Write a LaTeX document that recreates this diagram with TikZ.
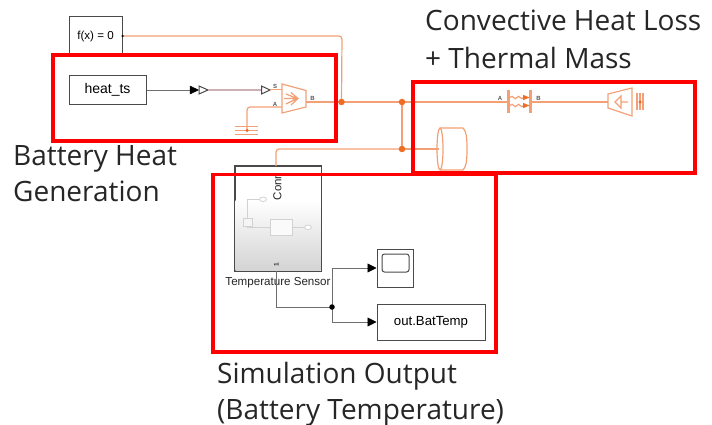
\documentclass[tikz,border=0pt]{standalone}
\usepackage{fontspec}
\setmainfont{Liberation Sans}
\newfontfamily\headfont{Open Sans}
\usetikzlibrary{arrows.meta,shadows,decorations.pathmorphing,shapes.geometric}
\definecolor{phys}{HTML}{F4A077}
\definecolor{physdot}{HTML}{EE6C24}
\definecolor{blockline}{HTML}{4A4A4A}
\definecolor{sigline}{HTML}{6F6F6F}
\definecolor{mixline}{HTML}{CDB0B4}
\definecolor{ghost}{HTML}{D2D2D2}
\definecolor{headtext}{HTML}{262626}
\tikzset{
  blockbox/.style={draw=blockline,line width=1pt,fill=white,inner sep=0pt,
    drop shadow={shadow xshift=1pt,shadow yshift=-1pt,opacity=.3,fill=black}},
  physline/.style={draw=phys,line width=1.2pt,rounded corners=3pt},
  physicon/.style={draw=phys,line width=1.2pt,line join=miter},
  sigarrow/.style={draw=sigline,line width=.9pt,-{Triangle[length=9pt,width=9pt,color=black]}},
  sigline/.style={draw=sigline,line width=.9pt},
  jdot/.style={circle,fill=physdot,inner sep=0pt,minimum size=6.5pt},
  sdot/.style={circle,fill=black,inner sep=0pt,minimum size=5.5pt},
  redbox/.style={draw=red,line width=3.6pt},
  heading/.style={anchor=base west,inner sep=0pt,font=\headfont\fontsize{28}{28}\selectfont,text=headtext},
  portlabel/.style={inner sep=0pt,font=\bfseries\fontsize{6}{7}\selectfont,text=black!65},
  openarrow/.style={draw=blockline,line width=1pt,fill=white,line join=miter},
  ghostline/.style={draw=ghost,line width=.8pt}
}
\begin{document}
\begin{tikzpicture}[x=1pt,y=-1pt]
\useasboundingbox[fill=white] (0,0) rectangle (712,425);

% blocks
\node[blockbox,minimum width=53pt,minimum height=38pt,font=\fontsize{11.6}{13}\selectfont] (solver) at (95.5,36) {f(x) = 0};
\node[blockbox,minimum width=77pt,minimum height=29pt,font=\fontsize{14}{16}\selectfont] (heat) at (107.5,90) {heat\_ts};
\node[blockbox,minimum width=86pt,minimum height=105pt] (sensor) at (278,218.5) {};
\fill[top color=white,bottom color=black!17,draw=none] (235.6,200) rectangle (320.4,270.4);
\draw[draw=blockline,line width=1pt] (sensor.north west) rectangle (sensor.south east);
\node[blockbox,minimum width=36pt,minimum height=38pt] (scope) at (395,268) {};
\draw[draw=blockline,line width=1pt,rounded corners=2.5pt] (382,254) rectangle (409,272);
\node[blockbox,minimum width=108pt,minimum height=36pt,font=\fontsize{13.2}{15}\selectfont] (out) at (431,322) {out.BatTemp};

% inner sensor diagram
\node[ellipse,draw=ghost,fill=white,line width=.8pt,minimum width=7pt,minimum height=4.5pt,inner sep=0pt] (gin) at (263,199.3) {};
\node[ellipse,draw=ghost,fill=white,line width=.8pt,minimum width=7pt,minimum height=4.5pt,inner sep=0pt] (gout) at (308,227.3) {};
\node[draw=ghost,fill=black!4,line width=.8pt,minimum width=9pt,minimum height=8pt,inner sep=0pt] (gsmall) at (247.5,222.5) {};
\node[draw=ghost,fill=black!2,line width=.8pt,minimum width=22pt,minimum height=16pt,inner sep=0pt] (gbig) at (281,227.3) {};
\draw[ghostline] (gin.west) -| (gsmall.north);
\draw[ghostline] (gsmall.south) |- (gbig.west);
\draw[ghostline] (gbig.east) -- (gout.west);
\node[rotate=90,inner sep=0pt,font=\fontsize{11.5}{13}\selectfont,anchor=west,text=black!85] (conn) at (277.5,200.5) {Conn};
\node[rotate=90,inner sep=0pt,font=\bfseries\fontsize{6.5}{7}\selectfont,text=black!80] (pone) at (276.5,265) {1};
\node[inner sep=0pt,font=\fontsize{11.6}{13}\selectfont,text=black!85] (sensorlabel) at (278,283) {Temperature Sensor};

% coordinates
\coordinate (hub) at (341.5,102);
\coordinate (jt) at (402,102);
\coordinate (jb) at (402,149);
\coordinate (solvout) at (122.5,36);
\coordinate (gs) at (306,102);
\coordinate (ga) at (282,107);
\coordinate (gnd) at (247,130.5);
\coordinate (pa) at (508,102);
\coordinate (pb) at (531,102);
\coordinate (capin) at (608,102);
\coordinate (split) at (332,307);
\coordinate (sensout) at (276,271);
\coordinate (sensin) at (276,166);
\coordinate (cyl) at (439,149);

% physical connectors
\draw[physline] (solvout) -- (342,36) -- (hub);
\draw[physline] (gs) -- (hub) -- (jt) -- (pa);
\draw[physline] (pb) -- (capin);
\draw[physline] (jt) -- (jb);
\draw[physline] (jb) -- (276,149) -- (sensin);
\draw[physline] (ga) -- (247,107) -- (gnd);

% controlled source and ground
\draw[physicon,fill=white] (282,84) -- (306,90.5) -- (306,107) -- (282,113) -- cycle;
\draw[physicon] (286,94) -- (297,98.5) -- (286,104) (291,92.5) -- (298,98.5) -- (291,105) (284,98.5) -- (297,98.5);
\draw[physicon] (235,126.5) -- (258,126.5) (235,130.5) -- (258,130.5) (235,134.5) -- (258,134.5);
\node[circle,fill=physdot,inner sep=0pt,minimum size=3.5pt] (gnddot) at (gnd) {};

% signal path
\coordinate (conv) at (190,90);
\draw[sigline] (heat.east) -- (conv);
\draw[fill=black,draw=black] (190,86) -- (198.5,90) -- (190,94) -- cycle;
\draw[openarrow] (199,86) -- (208,90) -- (199,94) -- cycle;
\draw[draw=mixline,line width=1.2pt] (208,90) -- (261,90);
\draw[openarrow] (261.5,86) -- (270,90) -- (261.5,94) -- cycle;
\draw[draw=phys,line width=1pt] (270,90) -- (282,90);
\node[portlabel] (ls) at (275,86) {S};
\node[portlabel] (la) at (275,104) {A};
\node[portlabel] (lb) at (312.5,98) {B};

% convection
\draw[physicon,fill=white] (508,91) rectangle (509.5,112);
\draw[physicon,fill=white] (530,91) rectangle (531.5,112);
\draw[physicon,decorate,decoration={snake,amplitude=1.2pt,segment length=6.5pt}] (510,97.5) -- (524,97.5);
\draw[physicon,decorate,decoration={snake,amplitude=1.2pt,segment length=6.5pt}] (510,105.5) -- (524,105.5);
\fill[physdot] (523,94.8) -- (529.5,97.5) -- (523,100.2) -- cycle;
\fill[physdot] (523,102.8) -- (529.5,105.5) -- (523,108.2) -- cycle;
\node[portlabel] (lpa) at (500,98) {A};
\node[portlabel] (lpb) at (538.5,98) {B};

% temperature reference
\draw[physicon,fill=white] (608,94) -- (632,88) -- (632,116) -- (608,108) -- cycle;
\draw[physicon] (621,96) -- (615,102) -- (621,108) -- cycle (621,102) -- (628,102);
\draw[physicon] (637,93) -- (637,110) (640,93) -- (640,110) (643,93) -- (643,110);
\node[circle,fill=physdot,inner sep=0pt,minimum size=3.5pt] (refdot) at (640,102) {};

% thermal mass
\draw[physicon] (440,128) -- (463,128) .. controls (466,131) and (467,136) .. (467,149) .. controls (467,162) and (466,167) .. (463,170) -- (440,170);
\draw[physicon] (440,149) ellipse [x radius=3pt,y radius=21pt];
\draw[physline] (jb) -- (cyl);

% junctions
\node[jdot] (d1) at (hub) {};
\node[jdot] (d2) at (jt) {};
\node[jdot] (d3) at (jb) {};
\node[circle,fill=black,inner sep=0pt,minimum size=2.5pt] (solvdot) at (solvout) {};

% measurement
\draw[sigline] (sensout) -- (276,307) -- (split);
\draw[sigarrow] (split) -- (332,268) -- (scope.west);
\draw[sigarrow] (split) -- (332,322) -- (out.west);
\node[sdot] (d4) at (split) {};

% highlight frames
\draw[redbox] (53,55) rectangle (336,141);
\draw[redbox] (413,82) rectangle (695,173);
\draw[redbox] (213,174.5) rectangle (496,352);

% headings
\node[heading] (h1) at (425,31) {Convective Heat Loss};
\node[heading] (h2) at (425,69) {+ Thermal Mass};
\node[heading] (h3) at (13,165) {Battery Heat};
\node[heading] (h4) at (13,201) {Generation};
\node[heading] (h5) at (217,383) {Simulation Output};
\node[heading] (h6) at (217,419) {(Battery Temperature)};
\end{tikzpicture}
\end{document}
